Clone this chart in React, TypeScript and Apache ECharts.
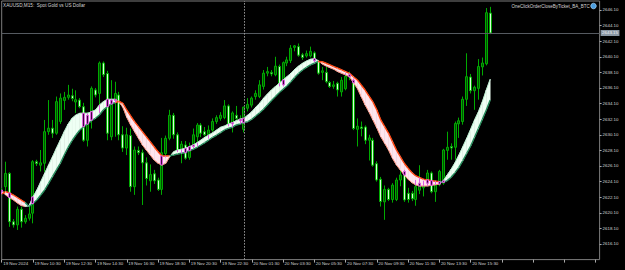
import React, { useEffect, useRef } from "react";
import * as echarts from "echarts";

// ---- data ----
const timeLabels = [
  "19 Nov 2024", "19 Nov 10:30", "19 Nov 12:30", "19 Nov 14:30", "19 Nov 16:30",
  "19 Nov 18:30", "19 Nov 20:30", "19 Nov 22:30", "20 Nov 01:30", "20 Nov 03:30",
  "20 Nov 05:30", "20 Nov 07:30", "20 Nov 09:30", "20 Nov 11:30", "20 Nov 13:30",
  "20 Nov 15:30",
];
const SLOT_COUNT = 154; // visible bar slots including right shift
const DAY_SEPARATOR_BAR = 62;
const CURRENT_PRICE = 2643.15;

const opens = [
  2622.8, 2623.45, 2625.15, 2618.95, 2618.55, 2620.55, 2618.95, 2619.4, 2620.05, 2626.65,
  2626.2, 2626.45, 2630.5, 2630.95, 2630.3, 2631.8, 2634.5, 2634.9, 2635.1, 2634.3,
  2634.55, 2633.7, 2629.4, 2632.0, 2635.85, 2635.4, 2639.3, 2637.95, 2629.85, 2634.5,
  2635.2, 2630.1, 2628.4, 2630.0, 2623.45, 2628.1, 2627.8, 2626.5, 2624.2, 2625.1,
  2624.3, 2623.1, 2627.7, 2629.65, 2632.6, 2630.1, 2628.2, 2628.8, 2627.2, 2628.6,
  2629.85, 2631.35, 2630.5, 2630.1, 2630.7, 2631.8, 2632.2, 2632.3, 2633.8, 2631.5,
  2632.6, 2632.2, 2630.8, 2633.5, 2633.9, 2635.0, 2635.0, 2636.3, 2638.0, 2638.1,
  2637.8, 2638.85, 2636.5, 2639.3, 2639.6, 2641.3, 2641.4, 2640.35, 2640.2, 2640.2,
  2640.6, 2639.5, 2638.1, 2638.1, 2636.8, 2636.3, 2636.7, 2635.6, 2636.0, 2637.8,
  2637.1, 2630.8, 2631.1, 2631.1, 2629.4, 2629.4, 2626.4, 2624.4, 2621.5, 2623.1,
  2621.8, 2621.8, 2624.3, 2625.4, 2622.6, 2622.6, 2621.8, 2623.0, 2623.3, 2623.9,
  2625.2, 2622.8, 2623.7, 2623.9, 2628.1, 2628.6, 2628.5, 2631.5, 2631.8, 2634.65,
  2637.5, 2635.75, 2636.05, 2638.8, 2639.2, 2645.7,
];
const closes = [
  2623.0, 2625.15, 2618.95, 2618.55, 2620.55, 2618.95, 2619.4, 2619.95, 2626.65, 2626.4,
  2626.5, 2630.5, 2630.95, 2630.3, 2634.35, 2634.8, 2634.9, 2635.2, 2634.75, 2634.6,
  2633.7, 2629.4, 2632.6, 2636.05, 2635.2, 2639.3, 2637.8, 2630.3, 2634.55, 2635.4,
  2630.1, 2628.4, 2630.1, 2623.45, 2628.15, 2627.8, 2626.5, 2624.5, 2625.0, 2624.2,
  2623.1, 2627.8, 2629.65, 2632.6, 2630.1, 2628.15, 2628.9, 2627.1, 2628.6, 2630.1,
  2631.35, 2630.3, 2630.1, 2630.7, 2631.8, 2632.3, 2632.6, 2633.8, 2631.5, 2632.9,
  2632.2, 2631.9, 2633.65, 2634.0, 2634.8, 2635.4, 2636.5, 2638.0, 2638.2, 2637.9,
  2638.9, 2636.7, 2639.35, 2639.7, 2641.2, 2641.5, 2640.3, 2640.0, 2640.5, 2640.8,
  2639.6, 2638.0, 2638.3, 2636.9, 2636.3, 2636.5, 2635.85, 2637.1, 2637.6, 2637.5,
  2630.9, 2631.2, 2630.9, 2629.4, 2629.7, 2626.2, 2624.3, 2621.55, 2623.1, 2621.8,
  2623.65, 2624.3, 2624.95, 2621.75, 2621.8, 2621.9, 2623.45, 2623.9, 2623.6, 2625.2,
  2622.8, 2623.7, 2625.4, 2628.15, 2628.5, 2628.4, 2631.55, 2631.9, 2634.65, 2637.55,
  2635.75, 2636.2, 2638.85, 2639.3, 2645.75, 2643.15,
];
const lows = [
  2622.5, 2622.8, 2618.3, 2618.2, 2617.9, 2618.2, 2618.7, 2619.1, 2618.75, 2626.1,
  2625.4, 2625.35, 2630.1, 2629.7, 2630.1, 2631.5, 2633.3, 2634.6, 2634.4, 2632.9,
  2633.5, 2629.2, 2628.6, 2630.9, 2634.9, 2632.9, 2637.5, 2629.4, 2629.4, 2629.85,
  2629.4, 2627.9, 2627.5, 2622.8, 2622.4, 2627.5, 2621.1, 2623.6, 2622.8, 2623.8,
  2622.9, 2622.4, 2627.2, 2629.4, 2629.6, 2627.9, 2626.45, 2626.9, 2626.9, 2628.4,
  2628.6, 2629.8, 2629.9, 2629.6, 2630.5, 2631.5, 2631.9, 2632.1, 2631.2, 2630.4,
  2631.9, 2631.5, 2630.4, 2633.1, 2633.6, 2634.6, 2634.8, 2635.9, 2637.6, 2637.6,
  2637.6, 2636.3, 2636.3, 2638.9, 2639.3, 2640.8, 2640.1, 2639.7, 2640.0, 2640.0,
  2639.4, 2637.8, 2637.1, 2636.7, 2636.1, 2636.0, 2635.0, 2635.0, 2635.8, 2637.1,
  2630.7, 2628.6, 2629.9, 2628.9, 2626.8, 2626.0, 2624.1, 2620.9, 2619.2, 2621.6,
  2621.4, 2621.6, 2623.5, 2621.5, 2621.4, 2621.6, 2621.0, 2622.5, 2622.2, 2623.5,
  2622.6, 2621.5, 2623.5, 2623.7, 2626.9, 2626.9, 2626.9, 2629.7, 2631.4, 2633.8,
  2635.4, 2633.3, 2634.6, 2637.7, 2639.0, 2643.0,
];
const highs = [
  2623.3, 2626.65, 2625.3, 2619.3, 2620.9, 2620.9, 2619.8, 2620.9, 2626.85, 2626.9,
  2628.15, 2632.0, 2634.55, 2632.0, 2635.0, 2635.4, 2635.6, 2636.5, 2636.0, 2635.8,
  2634.8, 2634.2, 2633.0, 2636.3, 2636.1, 2639.5, 2639.5, 2638.3, 2637.1, 2636.9,
  2635.6, 2631.2, 2631.0, 2630.9, 2628.6, 2628.6, 2628.2, 2627.2, 2626.3, 2625.6,
  2624.6, 2629.7, 2630.0, 2633.3, 2632.9, 2630.4, 2629.3, 2629.3, 2629.1, 2630.9,
  2631.6, 2631.6, 2631.1, 2631.3, 2632.2, 2632.6, 2633.0, 2634.55, 2634.0, 2633.1,
  2633.8, 2632.6, 2633.7, 2634.8, 2635.0, 2635.8, 2637.1, 2638.4, 2638.8, 2638.4,
  2640.1, 2639.1, 2639.5, 2640.1, 2641.6, 2641.6, 2641.8, 2640.6, 2640.9, 2641.4,
  2640.8, 2639.7, 2638.8, 2638.8, 2637.0, 2637.0, 2636.9, 2637.5, 2638.0, 2638.2,
  2637.3, 2632.2, 2631.8, 2631.3, 2630.1, 2629.7, 2626.7, 2624.7, 2623.6, 2623.3,
  2623.9, 2624.6, 2625.5, 2625.6, 2623.3, 2622.9, 2624.3, 2626.2, 2624.2, 2625.6,
  2625.4, 2624.3, 2625.6, 2628.3, 2630.5, 2629.0, 2631.8, 2632.3, 2635.0, 2640.55,
  2637.9, 2636.4, 2639.8, 2640.0, 2646.35, 2646.5,
];
const fastMA = [
  2623.02, 2622.38, 2622.06, 2621.74, 2621.36, 2621.04, 2620.91, 2621.0, 2622.13, 2623.02,
  2624.09, 2625.16, 2626.23, 2627.29, 2628.37, 2629.43, 2630.5, 2631.48, 2632.22, 2632.64,
  2632.86, 2632.86, 2632.86, 2633.06, 2633.28, 2633.92, 2634.34, 2634.65, 2634.65, 2634.65,
  2634.3, 2633.63, 2632.34, 2631.36, 2630.5, 2629.65, 2628.79, 2628.15, 2627.51, 2626.87,
  2626.45, 2626.23, 2626.45, 2627.3, 2627.93, 2628.15, 2628.24, 2628.37, 2628.57, 2628.79,
  2629.09, 2629.43, 2629.78, 2630.07, 2630.37, 2630.72, 2631.06, 2631.23, 2631.48, 2631.65,
  2631.91, 2632.09, 2632.22, 2632.64, 2633.06, 2633.63, 2634.14, 2634.78, 2635.33, 2635.84,
  2636.27, 2636.7, 2637.13, 2637.55, 2637.98, 2638.5, 2638.92, 2639.27, 2639.56, 2639.78,
  2639.86, 2639.6, 2639.18, 2638.92, 2638.7, 2638.5, 2638.19, 2637.98, 2637.77, 2637.55,
  2636.78, 2636.06, 2634.98, 2633.92, 2633.02, 2632.0, 2630.97, 2629.86, 2629.01, 2628.15,
  2627.09, 2626.23, 2625.59, 2624.95, 2624.39, 2623.96, 2623.66, 2623.54, 2623.54, 2623.54,
  2623.63, 2623.7, 2623.79, 2624.2, 2624.95, 2625.68, 2626.52, 2627.51, 2628.57, 2629.65,
  2630.81, 2632.0, 2633.06, 2634.34, 2635.84, 2637.22,
];
const slowMA = [
  2622.51, 2622.81, 2622.64, 2622.38, 2622.06, 2621.74, 2621.42, 2620.9, 2621.29, 2621.74,
  2622.38, 2623.02, 2623.88, 2624.73, 2625.59, 2626.45, 2627.51, 2628.5, 2629.34, 2630.07,
  2630.72, 2631.14, 2631.48, 2631.91, 2632.22, 2632.64, 2633.28, 2633.7, 2634.05, 2634.22,
  2634.4, 2634.14, 2633.28, 2632.51, 2631.78, 2631.14, 2630.5, 2629.86, 2629.22, 2628.57,
  2627.93, 2627.38, 2627.38, 2627.4, 2627.51, 2627.64, 2627.73, 2627.81, 2628.06, 2628.24,
  2628.5, 2628.79, 2629.09, 2629.43, 2629.78, 2630.07, 2630.37, 2630.72, 2630.93, 2631.06,
  2631.36, 2631.48, 2631.65, 2631.78, 2632.09, 2632.51, 2632.93, 2633.37, 2633.92, 2634.47,
  2634.98, 2635.5, 2635.93, 2636.36, 2636.91, 2637.47, 2637.98, 2638.41, 2638.75, 2639.05,
  2639.27, 2639.5, 2639.47, 2639.27, 2639.05, 2638.83, 2638.63, 2638.41, 2638.19, 2637.98,
  2637.55, 2637.13, 2636.48, 2635.84, 2635.07, 2634.31, 2633.28, 2632.0, 2631.14, 2630.29,
  2629.22, 2628.15, 2627.29, 2626.45, 2625.81, 2625.24, 2624.82, 2624.6, 2624.39, 2624.31,
  2624.22, 2624.14, 2624.09, 2624.0, 2624.22, 2624.65, 2625.24, 2625.93, 2626.78, 2627.73,
  2628.66, 2629.78, 2630.93, 2632.09, 2633.28, 2634.56,
];

// ---- styles ----
const FONT = "'Liberation Sans', Arial, sans-serif";
const TEXT_COLOR = "#d4d4d4";
const FRAME_COLOR = "#7c7c7c";
const WICK = "#00aa00";
const BULL_FILL = "#005200";
const BEAR_FILL = "#d6ffd6";
const XOR_LINE = "#e060e0";
const XOR_FILL = "#3a0a3a";

export default function App() {
  const ref = useRef<HTMLDivElement>(null);

  useEffect(() => {
    if (!ref.current) return;
    const chart = echarts.init(ref.current, undefined, { renderer: "svg" });

    const categories = Array.from({ length: SLOT_COUNT }, (_, i) => String(i));
    const candleData = opens.map((o, i) => [i, o, closes[i], lows[i], highs[i]]);
    const bandData = fastMA.map((f, i) => [i, f, slowMA[i]]);

    const option: any = {
      animation: false,
      backgroundColor: "#000000",
      grid: {
        left: 1.7,
        right: 25.4,
        top: 1,
        bottom: 10.4,
        show: true,
        borderColor: FRAME_COLOR,
        borderWidth: 1,
        backgroundColor: "transparent",
        containLabel: false,
      },
      xAxis: {
        type: "category",
        data: categories,
        boundaryGap: false,
        axisLine: { show: false },
        axisTick: { show: true, interval: 7, length: 3, lineStyle: { color: "#a8a8a8", width: 1 } },
        axisLabel: {
          interval: 7,
          formatter: (_v: string, idx: number) => (idx % 8 === 0 && timeLabels[idx / 8]) || "",
          color: TEXT_COLOR,
          fontSize: 4.4,
          fontFamily: FONT,
          align: "left",
          margin: 2,
          padding: [0, 0, 0, 1.5],
        },
        splitLine: { show: false },
      },
      yAxis: {
        type: "value",
        position: "right",
        min: 2614.1,
        max: 2647.25,
        interval: 2,
        axisLine: { show: false },
        axisTick: { show: true, length: 2, lineStyle: { color: "#a8a8a8" } },
        axisLabel: {
          formatter: (v: number) => v.toFixed(2),
          showMinLabel: false,
          showMaxLabel: false,
          color: TEXT_COLOR,
          fontSize: 4.4,
          fontFamily: FONT,
          margin: 3,
        },
        splitLine: { show: false },
      },
      series: [
        {
          type: "custom",
          name: "candles",
          data: candleData,
          encode: { x: 0, y: [1, 2, 3, 4] },
          clip: true,
          renderItem: (_params: any, api: any) => {
            const x = api.value(0);
            const o = api.value(1);
            const c = api.value(2);
            const l = api.value(3);
            const h = api.value(4);
            const top = api.coord([x, Math.max(o, c)]);
            const bot = api.coord([x, Math.min(o, c)]);
            const hi = api.coord([x, h]);
            const lo = api.coord([x, l]);
            const px = Math.round(top[0] - 0.5) + 0.5;
            const bull = c >= o;
            const hgt = Math.max(bot[1] - top[1], 1);
            return {
              type: "group",
              children: [
                {
                  type: "line",
                  shape: { x1: px, y1: hi[1], x2: px, y2: lo[1] },
                  style: { stroke: WICK, lineWidth: 1 },
                },
                {
                  type: "rect",
                  shape: { x: px - 1, y: top[1], width: 2, height: hgt },
                  style: { fill: bull ? BULL_FILL : BEAR_FILL, stroke: WICK, lineWidth: 1 },
                },
              ],
            };
          },
          markLine: {
            silent: true,
            symbol: "none",
            animation: false,
            data: [
              {
                yAxis: CURRENT_PRICE,
                lineStyle: { color: "#555a60", width: 1, type: "solid" },
                label: {
                  show: true,
                  position: "end",
                  formatter: CURRENT_PRICE.toFixed(2),
                  color: "#f2f6fa",
                  backgroundColor: "#8a97a4",
                  fontSize: 4.4,
                  fontFamily: FONT,
                  padding: [1.2, 1.5, 0.8, 1.5],
                  distance: 1,
                },
              },
              {
                xAxis: String(DAY_SEPARATOR_BAR),
                lineStyle: { color: "#9a9a9a", width: 1, type: [1.5, 1.5] },
                label: { show: false },
              },
            ],
          },
          z: 2,
        },
        {
          type: "custom",
          name: "band",
          data: bandData,
          encode: { x: 0, y: [1, 2] },
          clip: true,
          renderItem: (params: any, api: any) => {
            const i = params.dataIndex;
            if (i >= fastMA.length - 1) return { type: "group", children: [] };
            const f0 = api.coord([i, fastMA[i]]);
            const f1 = api.coord([i + 1, fastMA[i + 1]]);
            const s0 = api.coord([i, slowMA[i]]);
            const s1 = api.coord([i + 1, slowMA[i + 1]]);
            const up = fastMA[i + 1] >= slowMA[i + 1];
            const fill = up ? "#effff4" : "#ffe5ee";
            return {
              type: "group",
              children: [
                {
                  type: "polygon",
                  shape: { points: [f0, f1, s1, s0] },
                  style: { fill, stroke: fill, lineWidth: 0.6 },
                },
                {
                  type: "line",
                  shape: { x1: f0[0], y1: f0[1], x2: f1[0], y2: f1[1] },
                  style: { stroke: up ? "#b8efcf" : "#ff8a70", lineWidth: 0.9 },
                },
                {
                  type: "line",
                  shape: { x1: s0[0], y1: s0[1], x2: s1[0], y2: s1[1] },
                  style: { stroke: up ? "#248a5a" : "#ff4510", lineWidth: 1.4 },
                },
              ],
            };
          },
          z: 3,
        },
        {
          // where a candle passes through the band, the terminal shows it inverted (XOR)
          type: "custom",
          name: "overlap",
          data: candleData,
          encode: { x: 0, y: [1, 2, 3, 4] },
          clip: true,
          renderItem: (params: any, api: any) => {
            const i = params.dataIndex;
            const x = api.value(0);
            const o = api.value(1);
            const c = api.value(2);
            const l = api.value(3);
            const h = api.value(4);
            const bLo = Math.min(fastMA[i], slowMA[i]);
            const bHi = Math.max(fastMA[i], slowMA[i]);
            const children: any[] = [];
            const px = Math.round(api.coord([x, o])[0] - 0.5) + 0.5;
            const wLo = Math.max(l, bLo);
            const wHi = Math.min(h, bHi);
            if (wHi - wLo > 0.15) {
              const a = api.coord([x, wHi]);
              const b = api.coord([x, wLo]);
              children.push({
                type: "line",
                shape: { x1: px, y1: a[1], x2: px, y2: b[1] },
                style: { stroke: XOR_LINE, lineWidth: 1 },
              });
            }
            const oLo = Math.max(Math.min(o, c), bLo);
            const oHi = Math.min(Math.max(o, c), bHi);
            if (oHi - oLo > 0.15) {
              const a = api.coord([x, oHi]);
              const b = api.coord([x, oLo]);
              children.push({
                type: "rect",
                shape: { x: px - 1, y: a[1], width: 2, height: Math.max(b[1] - a[1], 1) },
                style: { fill: XOR_FILL, stroke: XOR_LINE, lineWidth: 1 },
              });
            }
            return { type: "group", children };
          },
          z: 4,
        },
      ],
      graphic: [
        {
          type: "text",
          left: 3,
          top: 3,
          style: {
            text: "XAUUSD,M15:  Spot Gold vs US Dollar",
            fill: TEXT_COLOR,
            fontSize: 4.7,
            fontFamily: FONT,
          },
          z: 10,
        },
        {
          type: "text",
          left: 511.5,
          top: 4,
          style: {
            text: "OneClickOrderCloseByTicket_BA_BTC",
            fill: TEXT_COLOR,
            fontSize: 4.5,
            fontFamily: FONT,
          },
          z: 10,
        },
        {
          type: "circle",
          shape: { cx: 593.5, cy: 6, r: 2.8 },
          style: { fill: "#4a9ee0", stroke: "#bfe2ff", lineWidth: 0.6 },
          z: 10,
        },
      ],
    };

    chart.setOption(option);
    return () => chart.dispose();
  }, []);

  return (
    <div
      ref={ref}
      style={{ position: "fixed", left: 0, top: 0, width: 625, height: 270, background: "#000" }}
    />
  );
}
